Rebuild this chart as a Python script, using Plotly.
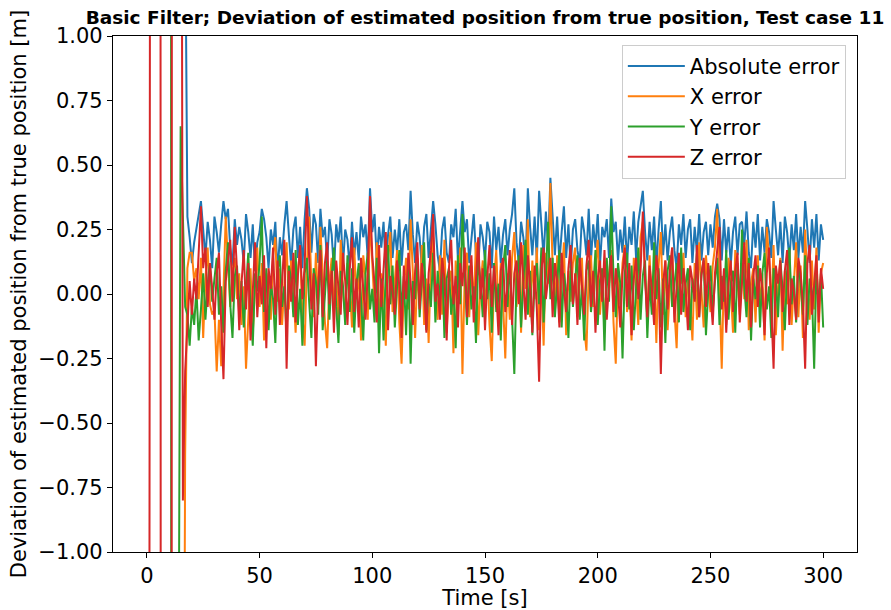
import plotly.graph_objects as go

# Time stamps [s] (one sample per second)
time_s = list(range(0, 301))

abs_error = [
    30, 28, 26, 24, 22, 20, 18, 16, 14, 12,
    10, 9, 8, 7, 6, 5, 4, 1.5, 0.30, 0.22,
    0.12, 0.20, 0.26, 0.31, 0.36, 0.25, 0.14, 0.28, 0.21, 0.10,
    0.30, 0.24, 0.16, 0.27, 0.36, 0.29, 0.33, 0.18, 0.11, 0.29,
    0.19, 0.26, 0.21, 0.12, 0.31, 0.24, 0.14, 0.27, 0.09, 0.20,
    0.24, 0.33, 0.29, 0.22, 0.10, 0.25, 0.19, 0.28, 0.08, 0.22,
    0.15, 0.27, 0.36, 0.23, 0.11, 0.25, 0.30, 0.14, 0.26, 0.10,
    0.29, 0.41, 0.33, 0.16, 0.31, 0.27, 0.12, 0.33, 0.22, 0.26,
    0.12, 0.29, 0.23, 0.09, 0.27, 0.20, 0.30, 0.11, 0.25, 0.21,
    0.10, 0.28, 0.15, 0.24, 0.13, 0.30, 0.22, 0.27, 0.14, 0.41,
    0.24, 0.31, 0.13, 0.26, 0.18, 0.28, 0.10, 0.23, 0.30, 0.14,
    0.25, 0.16, 0.29, 0.11, 0.24, 0.27, 0.17, 0.40, 0.23, 0.12,
    0.28, 0.22, 0.10, 0.26, 0.31, 0.14, 0.24, 0.36, 0.27, 0.15,
    0.09, 0.25, 0.30, 0.16, 0.12, 0.27, 0.22, 0.33, 0.13, 0.26,
    0.36, 0.24, 0.29, 0.12, 0.23, 0.31, 0.15, 0.10, 0.27, 0.22,
    0.13, 0.28, 0.24, 0.10, 0.30, 0.17, 0.26, 0.12, 0.23, 0.29,
    0.15, 0.25, 0.31, 0.41, 0.20, 0.12, 0.28, 0.22, 0.11, 0.41,
    0.26, 0.15, 0.30, 0.13, 0.40, 0.25, 0.14, 0.32, 0.18, 0.45,
    0.27, 0.15, 0.30, 0.12, 0.24, 0.34, 0.14, 0.27, 0.10, 0.25,
    0.29, 0.17, 0.12, 0.30, 0.24, 0.15, 0.33, 0.13, 0.27, 0.18,
    0.31, 0.11, 0.26, 0.22, 0.29, 0.14, 0.37, 0.24, 0.28, 0.13,
    0.25, 0.16, 0.30, 0.12, 0.26, 0.19, 0.32, 0.14, 0.28, 0.35,
    0.40, 0.24, 0.13, 0.28, 0.17, 0.30, 0.11, 0.25, 0.36, 0.15,
    0.27, 0.13, 0.24, 0.30, 0.17, 0.10, 0.27, 0.19, 0.31, 0.14,
    0.25, 0.29, 0.12, 0.26, 0.16, 0.31, 0.13, 0.24, 0.28, 0.15,
    0.27, 0.18, 0.30, 0.35, 0.29, 0.13, 0.29, 0.16, 0.26, 0.11,
    0.24, 0.30, 0.15, 0.27, 0.28, 0.19, 0.32, 0.16, 0.10, 0.28,
    0.18, 0.31, 0.13, 0.26, 0.16, 0.29, 0.24, 0.14, 0.36, 0.25,
    0.15, 0.28, 0.12, 0.30, 0.24, 0.13, 0.27, 0.17, 0.31, 0.14,
    0.26, 0.16, 0.36, 0.25, 0.12, 0.29, 0.18, 0.31, 0.13, 0.27,
    0.21,
]

x_error = [
    -30, -28, -26, -24, -22, -20, -18, -16, -14, -12,
    -10, -9, -8, -7, -6, -5, -3, -0.62, 0.10, 0.16,
    0.16, 0.05, 0.10, -0.02, 0.14, -0.17, 0.06, 0.18, -0.04, -0.08,
    -0.06, -0.30, -0.10, -0.28, 0.05, 0.30, 0.12, -0.05, 0.09, 0.14,
    -0.02, 0.08, -0.12, 0.03, -0.29, -0.08, 0.10, -0.15, 0.04, 0.18,
    -0.05, 0.12, -0.18, 0.02, 0.08, -0.10, 0.15, 0.22, -0.03, 0.10,
    -0.12, 0.07, 0.20, -0.06, 0.13, 0.02, -0.15, 0.09, 0.17, -0.08,
    -0.20, 0.11, 0.30, 0.04, -0.09, 0.16, -0.04, 0.26, 0.07, -0.11,
    -0.21, 0.05, 0.14, -0.07, 0.10, -0.16, 0.21, 0.02, -0.09, 0.12,
    0.04, -0.13, 0.18, -0.02, 0.09, -0.18, 0.15, 0.06, -0.10, 0.30,
    0.12, -0.05, 0.20, -0.14, 0.08, 0.01, -0.20, 0.13, 0.24, -0.07,
    0.05, 0.17, -0.11, -0.27, 0.03, 0.14, -0.06, 0.29, 0.08, -0.17,
    0.10, -0.04, 0.19, -0.12, 0.06, -0.19, 0.12, 0.22, 0.01, -0.10,
    0.15, -0.08, 0.21, -0.15, 0.04, 0.09, -0.23, 0.13, -0.02, 0.18,
    -0.31, 0.07, 0.16, -0.09, 0.11, -0.04, 0.20, -0.16, 0.03, 0.13,
    -0.06, 0.09, -0.12, -0.26, 0.05, 0.17, -0.08, 0.12, -0.03, -0.25,
    0.08, -0.10, 0.14, 0.24, -0.05, 0.11, -0.15, 0.19, 0.02, 0.29,
    -0.09, 0.13, -0.02, 0.18, -0.14, 0.07, -0.20, 0.16, 0.04, 0.43,
    0.10, -0.07, 0.15, -0.11, 0.05, 0.20, -0.16, 0.09, -0.03, 0.12,
    0.18, -0.09, 0.04, 0.14, -0.13, -0.22, 0.08, 0.15, -0.05, 0.11,
    0.21, -0.08, 0.06, -0.15, 0.13, 0.02, 0.17, -0.11, -0.27, 0.09,
    -0.04, 0.12, 0.19, -0.07, 0.05, -0.18, 0.14, 0.03, -0.12, 0.22,
    0.28, 0.06, -0.10, 0.15, -0.05, 0.09, -0.19, 0.11, 0.24, -0.08,
    0.13, -0.14, 0.02, 0.18, -0.06, -0.21, 0.10, 0.04, 0.16, -0.09,
    0.07, -0.03, -0.18, 0.12, -0.10, 0.20, 0.01, -0.13, 0.15, 0.05,
    -0.07, 0.11, 0.18, 0.33, -0.04, -0.29, 0.09, -0.12, 0.14, 0.02,
    -0.15, 0.17, 0.06, -0.08, 0.12, -0.02, 0.21, -0.14, 0.04, 0.10,
    -0.11, 0.15, -0.05, 0.08, -0.18, 0.26, 0.13, -0.07, 0.19, -0.16,
    0.03, 0.14, -0.22, 0.09, -0.04, 0.17, -0.12, 0.06, 0.20, -0.09,
    0.11, -0.17, 0.25, 0.04, -0.10, 0.13, -0.06, 0.18, -0.15, 0.08,
    0.12,
]

y_error = [
    30, 28, 26, 24, 22, 20, 18, 16, 14, 12,
    30, -8, -12, -10, -1.8, 0.65, 0.30, -0.05, -0.08, -0.20,
    -0.05, -0.12, 0.02, -0.18, -0.06, 0.08, -0.10, 0.04, 0.12, -0.03,
    0.06, 0.14, -0.08, 0.03, -0.15, 0.09, 0.20, -0.04, -0.17, 0.07,
    0.11, -0.09, 0.05, -0.13, 0.02, 0.16, -0.06, -0.20, 0.08, 0.01,
    0.12, 0.30, -0.07, 0.10, -0.14, 0.04, -0.02, -0.19, 0.09, 0.15,
    -0.05, 0.03, -0.16, 0.11, 0.06, -0.09, 0.17, -0.12, 0.02, -0.20,
    0.08, 0.14, -0.03, -0.17, 0.10, 0.05, -0.08, 0.19, -0.14, 0.01,
    0.13, -0.10, 0.07, 0.18, -0.05, -0.19, 0.09, 0.03, -0.12, 0.15,
    -0.07, 0.10, -0.15, 0.04, 0.12, -0.02, -0.18, 0.08, 0.16, -0.06,
    0.02, -0.11, 0.14, -0.23, 0.06, -0.18, 0.09, 0.19, -0.04, 0.11,
    -0.13, 0.03, 0.17, -0.08, 0.07, -0.16, 0.12, -0.27, 0.05, -0.02,
    0.14, -0.09, 0.08, 0.20, -0.14, 0.04, -0.05, 0.16, -0.11, 0.09,
    -0.03, 0.13, -0.17, 0.06, 0.10, -0.08, 0.02, -0.21, 0.15, -0.04,
    0.31, 0.07, -0.12, 0.11, -0.06, 0.03, -0.19, 0.14, 0.05, -0.09,
    0.17, -0.02, 0.08, -0.15, 0.12, -0.07, 0.04, -0.18, 0.10, 0.19,
    -0.05, 0.13, -0.10, -0.31, 0.06, 0.15, -0.13, 0.02, 0.21, -0.08,
    0.09, -0.16, 0.05, 0.12, -0.04, 0.18, -0.11, 0.07, 0.28, -0.02,
    0.14, -0.09, 0.04, 0.17, -0.13, 0.08, 0.01, -0.17, 0.11, -0.05,
    0.06, 0.15, -0.10, 0.03, -0.18, 0.09, 0.13, -0.07, 0.02, 0.17,
    -0.12, 0.05, 0.10, -0.22, 0.14, -0.03, 0.34, 0.07, -0.09, 0.12,
    0.04, -0.25, 0.08, 0.16, -0.06, 0.11, -0.14, 0.02, 0.18, -0.10,
    0.07, 0.13, -0.17, 0.05, -0.08, 0.20, -0.02, 0.10, -0.13, 0.06,
    -0.19, 0.09, 0.15, -0.05, 0.03, 0.12, -0.11, 0.18, -0.07, 0.04,
    0.10, -0.14, 0.06, -0.02, 0.16, -0.09, 0.08, 0.13, -0.16, 0.01,
    0.11, -0.07, 0.05, 0.14, -0.12, 0.07, -0.03, 0.17, -0.10, 0.04,
    0.09, -0.15, 0.12, -0.05, 0.25, 0.03, -0.09, 0.14, -0.18, 0.06,
    -0.02, 0.11, -0.13, 0.08, 0.16, -0.06, 0.03, -0.17, 0.10, 0.05,
    -0.09, 0.13, 0.02, -0.14, 0.09, 0.18, -0.04, 0.07, -0.11, 0.12,
    0.04, -0.08, 0.15, -0.12, 0.06, 0.01, -0.29, 0.10, -0.05, 0.08,
    -0.13,
]

z_error = [
    -20, -3, 8, 15, 20, 12, 4, -30, -25, -20,
    -15, -1.5, 25, 20, 10, 4, -0.80, -0.30, -0.10, 0.05,
    -0.08, 0.06, -0.02, 0.15, 0.34, 0.10, 0.18, -0.05, 0.12, 0.02,
    -0.10, 0.08, 0.16, -0.12, -0.33, 0.05, 0.14, 0.21, -0.03, 0.26,
    0.09, -0.14, 0.04, 0.17, -0.06, 0.12, -0.18, 0.03, 0.20, -0.09,
    0.07, -0.04, 0.15, -0.21, 0.10, 0.02, 0.18, -0.08, 0.13, -0.12,
    0.05, 0.21, -0.29, 0.09, -0.03, 0.16, -0.11, 0.07, 0.19, -0.02,
    0.11, 0.38, 0.14, -0.06, 0.08, -0.28, 0.03, 0.17, -0.09, 0.12,
    0.20, -0.04, 0.09, -0.15, 0.13, 0.01, -0.08, 0.16, 0.05, -0.12,
    0.10, 0.22, -0.07, 0.06, -0.13, 0.14, 0.02, -0.10, 0.08, 0.38,
    0.15, 0.04, -0.11, 0.19, -0.05, 0.09, 0.24, -0.14, 0.07, 0.01,
    -0.08, 0.13, 0.03, -0.17, 0.11, -0.02, 0.16, 0.05, -0.12, 0.09,
    0.20, -0.06, 0.12, 0.02, -0.15, 0.08, 0.17, 0.31, -0.03, 0.04,
    -0.10, 0.14, 0.06, -0.18, 0.10, 0.21, -0.04, 0.07, -0.13, 0.12,
    0.03, 0.18, -0.09, 0.05, 0.15, -0.11, 0.08, 0.22, -0.02, 0.10,
    -0.14, 0.06, 0.19, -0.05, 0.11, 0.01, -0.16, 0.09, 0.14, -0.07,
    0.04, 0.17, -0.12, 0.08, 0.13, -0.04, 0.20, 0.06, -0.10, 0.15,
    0.03, -0.15, 0.11, -0.06, -0.34, 0.09, 0.18, -0.02, 0.07, 0.14,
    -0.09, 0.12, 0.05, -0.13, 0.16, 0.02, -0.07, 0.10, 0.19, -0.04,
    0.08, -0.12, 0.14, 0.03, -0.08, 0.11, 0.21, -0.05, 0.09, -0.15,
    0.06, 0.13, -0.03, 0.17, -0.10, 0.04, 0.15, -0.07, 0.10, 0.01,
    -0.13, 0.08, 0.18, -0.05, 0.12, -0.16, 0.06, 0.14, -0.02, 0.09,
    0.32, 0.05, -0.09, 0.11, 0.02, -0.12, 0.15, 0.07, -0.31, 0.04,
    0.13, -0.06, 0.09, 0.18, -0.11, 0.03, 0.16, -0.08, 0.10, 0.02,
    -0.14, 0.11, 0.05, -0.03, 0.19, -0.09, 0.07, 0.14, -0.05, 0.12,
    0.01, -0.12, 0.08, 0.17, 0.26, -0.06, 0.10, -0.15, 0.04, 0.13,
    -0.07, 0.09, 0.16, -0.11, 0.05, 0.20, -0.03, 0.12, -0.13, 0.07,
    0.15, -0.05, 0.10, 0.02, -0.16, 0.08, 0.18, -0.09, -0.29, 0.11,
    0.04, 0.13, -0.07, 0.09, 0.17, -0.12, 0.06, 0.01, -0.10, 0.14,
    0.08, -0.04, -0.29, 0.12, 0.19, -0.08, 0.05, 0.15, -0.11, 0.10,
    0.02,
]

series_names = ["Absolute error", "X error", "Y error", "Z error"]
series_colors = ["#1f77b4", "#ff7f0e", "#2ca02c", "#d62728"]
series_values = [abs_error, x_error, y_error, z_error]

y_tick_vals = [-1.0, -0.75, -0.5, -0.25, 0.0, 0.25, 0.5, 0.75, 1.0]
x_tick_vals = [0, 50, 100, 150, 200, 250, 300]

FONT = "DejaVu Sans"
FS = 21

fig = go.Figure()
for name, color, vals in zip(series_names, series_colors, series_values):
    fig.add_trace(go.Scatter(
        x=time_s, y=vals, mode="lines", name=name,
        line=dict(color=color, width=2),
    ))

axis_common = dict(
    showline=True, mirror=True, linecolor="black", linewidth=1.2,
    ticks="outside", ticklen=5, tickwidth=1.2, tickcolor="black",
    showgrid=False, zeroline=False, automargin=False,
    tickfont=dict(family=FONT, size=FS, color="black"),
)

fig.update_layout(
    width=891, height=610,
    margin=dict(l=113, r=34, t=36, b=58, autoexpand=False),
    paper_bgcolor="white", plot_bgcolor="white",
    font=dict(family=FONT, size=FS, color="black"),
    title=dict(
        text="<b>Basic Filter; Deviation of estimated position from true position, Test case 11</b>",
        font=dict(family=FONT, size=18.5, color="black"),
        x=(113 + 857) / 2 / 891, xanchor="center",
        y=1 - 18 / 610, yanchor="middle", automargin=False,
    ),
    xaxis=dict(
        range=[-15, 315], tickvals=x_tick_vals,
        title=dict(text="Time [s]", font=dict(family=FONT, size=FS), standoff=2),
        **axis_common,
    ),
    yaxis=dict(
        range=[-1, 1], tickvals=y_tick_vals, tickformat=".2f",
        title=dict(text="Deviation of estimated position from true position [m]",
                   font=dict(family=FONT, size=21), standoff=5),
        **axis_common,
    ),
    legend=dict(
        x=0.985, y=0.983, xanchor="right", yanchor="top",
        bgcolor="rgba(255,255,255,0.8)", bordercolor="#cccccc", borderwidth=1,
        font=dict(family=FONT, size=FS, color="black"),
        tracegroupgap=0, itemwidth=57,
    ),
    showlegend=True,
)

fig.write_html(
    "out.html",
    config={"displayModeBar": False},
    post_script="document.body.style.margin='0';document.body.style.overflow='hidden';",
)
